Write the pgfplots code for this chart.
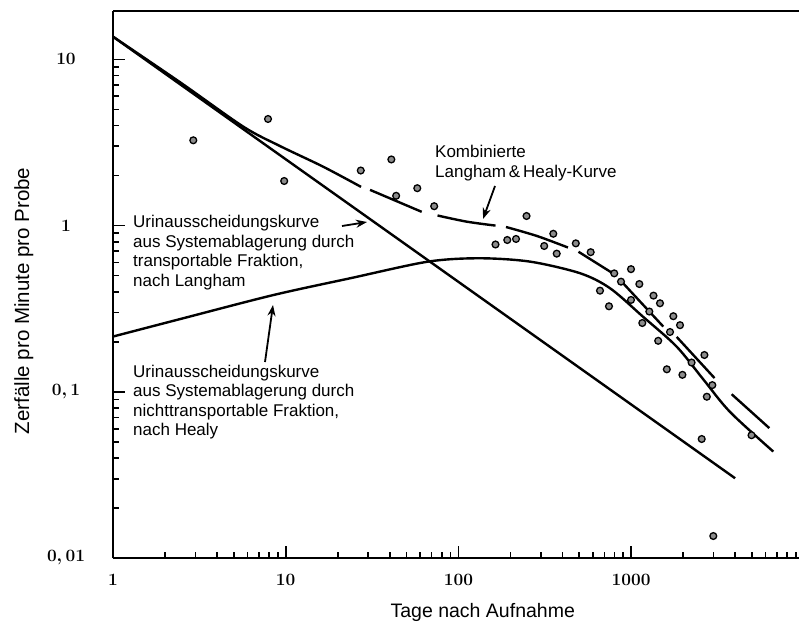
\documentclass[border=0pt]{standalone}
\usepackage{pgfplots}
\pgfplotsset{compat=1.18}
\usepackage{fontspec}
\setmainfont{Liberation Sans}
\usetikzlibrary{arrows.meta}
\newcommand\annfont{\fontsize{17}{19.5}\selectfont}

\pgfplotstableread{
x y
1 13.7
4000 0.0302
}\langham

\pgfplotstableread{
x y
1 0.215
2.55 0.277
8.47 0.382
23.6 0.482
66.7 0.607
133 0.636
260 0.607
506 0.517
755 0.420
1172 0.283
1836 0.187
2608 0.1194
3741 0.0756
6657 0.0437
}\healy

\pgfplotstableread{
x y
1 13.7
2.44 7.3
5.68 3.94
9.27 3.01
16.5 2.26
27.3 1.71
nan nan
30.8 1.64
61.3 1.21
nan nan
75.7 1.15
111.7 1.056
164 1.00
nan nan
188.6 0.981
285 0.866
431 0.738
nan nan
496 0.696
789 0.514
nan nan
883 0.459
1535 0.247
nan nan
1836 0.214
3040 0.121
nan nan
3822 0.0967
6310 0.0605
}\kombi

\pgfplotstableread{
x y
2.917 3.26
7.90 4.38
9.80 1.855
27.2 2.145
40.9 2.50
43.6 1.511
57.8 1.679
72.4 1.308
248 1.142
164 0.770
191.9 0.819
215.6 0.831
354.4 0.893
313.9 0.754
370.9 0.678
478.4 0.782
583.4 0.692
799 0.516
998.6 0.547
874 0.460
1116 0.445
660.6 0.406
1348 0.379
1470 0.341
998.6 0.357
744.7 0.327
1275 0.304
1756 0.285
1920 0.2517
1161 0.2594
1680 0.229
1435 0.2027
2657 0.1665
2240 0.150
1610 0.1366
1982 0.1265
2953 0.1097
2744 0.0934
2563 0.0520
4979 0.0548
2992 0.01356
}\messwerte

\begin{document}
\begin{tikzpicture}[x=1pt,y=1pt]
\path[use as bounding box] (0,0) rectangle (799,625);
\begin{axis}[
  at={(113pt,67pt)}, anchor=south west,
  scale only axis, width=686pt, height=547pt,
  xmode=log, ymode=log,
  xmin=1, xmax=9380, ymin=0.01, ymax=19.55,
  axis x line*=box, axis y line*=left,
  axis line style={line width=2.2pt},
  xtick={1,10,100,1000}, xticklabels={$1$,$10$,$100$,$1000$},
  minor xtick={2,3,4,5,6,7,8,9,20,30,40,50,60,70,80,90,200,300,400,500,600,700,800,900,2000,3000,4000,5000,6000,7000,8000,9000},
  ytick={0.01,0.1,1,10}, yticklabels={{$0,01$},{$0,1$},{$1$},{$10$}},
  minor ytick={0.02,0.03,0.04,0.05,0.06,0.07,0.08,0.09,0.2,0.3,0.4,0.5,0.6,0.7,0.8,0.9,2,3,4,5,6,7,8,9},
  xtick pos=left, ytick pos=left,
  tick align=inside,
  major tick length=12pt, minor tick length=6pt,
  tick style={black, line width=1.7pt},
  ticklabel style={font=\fontsize{19}{19}\selectfont\boldmath},
  xticklabel style={anchor=center, yshift=-22pt},
  yticklabel style={anchor=center, xshift=-47pt},
  xlabel={Tage nach Aufnahme},
  ylabel={Zerfälle pro Minute pro Probe},
  xlabel style={font=\fontsize{19.5}{22}\selectfont, at={(axis description cs:0.539,-0.1)}, anchor=center},
  ylabel style={font=\fontsize{20.5}{22}\selectfont, at={(axis description cs:-0.13,0.47)}, anchor=center},
  unbounded coords=jump,
]
\addplot[black, line width=2.4pt] table[x=x,y=y] {\langham};
\addplot[black, line width=2.4pt, smooth] table[x=x,y=y] {\healy};
\addplot[black, line width=2.4pt, smooth] table[x=x,y=y] {\kombi};
\addplot[only marks, mark=*, mark size=3.4pt, mark options={fill=black!45, draw=black, line width=1.3pt}] table[x=x,y=y] {\messwerte};
\end{axis}
% annotations (pixel coordinates: X = px, Y = 625 - py)
\node[anchor=base west, inner sep=0pt, font=\annfont] at (133,625-227.5) {Urinausscheidungskurve};
\node[anchor=base west, inner sep=0pt, font=\annfont] at (133,625-247) {aus Systemablagerung durch};
\node[anchor=base west, inner sep=0pt, font=\annfont] at (133,625-266.5) {transportable Fraktion,};
\node[anchor=base west, inner sep=0pt, font=\annfont] at (133,625-286) {nach Langham};
\node[anchor=base west, inner sep=0pt, font=\annfont] at (133,625-377) {Urinausscheidungskurve};
\node[anchor=base west, inner sep=0pt, font=\annfont] at (133,625-396.5) {aus Systemablagerung durch};
\node[anchor=base west, inner sep=0pt, font=\annfont] at (133,625-416) {nichttransportable Fraktion,};
\node[anchor=base west, inner sep=0pt, font=\annfont] at (133,625-435.5) {nach Healy};
\node[anchor=base west, inner sep=0pt, font=\annfont] at (435,625-157.5) {Kombinierte};
\node[anchor=base west, inner sep=0pt, font=\annfont] at (435,625-177) {Langham\,\&\,Healy-Kurve};
\draw[line width=1.8pt, -{Stealth[length=11pt,width=8pt]}] (342,625-226) -- (367,625-222);
\draw[line width=1.8pt, -{Stealth[length=11pt,width=8pt]}] (265,625-362) -- (273,625-305);
\draw[line width=1.8pt, -{Stealth[length=11pt,width=8pt]}] (495,625-186) -- (483,625-219);
\end{tikzpicture}
\end{document}
